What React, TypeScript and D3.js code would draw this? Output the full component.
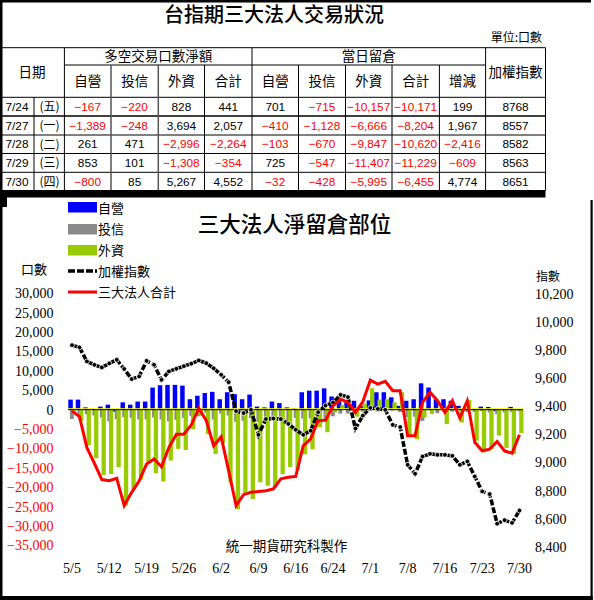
import React from 'react';
import * as d3 from 'd3';

// ---------- data ----------
const dates = [
  '5/5','5/6','5/7','5/8','5/11','5/12','5/13','5/14','5/15','5/18',
  '5/19','5/20','5/21','5/22','5/25','5/26','5/27','5/28','5/29','6/1',
  '6/2','6/3','6/4','6/5','6/8','6/9','6/10','6/11','6/12','6/15',
  '6/16','6/17','6/18','6/22','6/23','6/24','6/25','6/26','6/29','6/30',
  '7/1','7/2','7/3','7/6','7/7','7/8','7/9','7/13','7/14','7/15',
  '7/16','7/17','7/20','7/21','7/22','7/23','7/24','7/27','7/28','7/29','7/30',
];
// 自營
const dealers = [
  2600, 2600, 600, 200, 800, 1300, -500, 1900, 1300, 2100,
  2100, 5700, 6300, 6400, 6400, 6200, 2700, 3600, 4300, 4600,
  2700, 4500, 4000, 2700, 3900, 800, 600, 2100, 1700, 600,
  400, 4500, 4900, 4900, 5500, 3400, 2500, 1900, 2300, 1000,
  2400, 4500, 4500, 3200, 1000, 2300, 2700, 6800, 5700, 2700,
  2700, 2300, 1000, 400, 200, 800, 701, -410, -103, 725, -32,
];
// 投信
const trusts = [
  -2400, -1500, -1200, -1500, -2000, -3000, -2400, -1900, -2100, -2500,
  -2500, -2000, -2500, -3000, -2600, -2100, -1600, -1700, -800, -2500,
  -1000, -1500, -3100, -2900, -2200, -3200, -1900, -2500, -2900, -3200,
  -2100, -2300, -2200, -3200, -2400, -1700, -1000, -1000, -1200, -500,
  -300, -500, 100, -200, -600, -1900, -1800, -2900, -100, -900,
  300, -500, 200, -600, -600, -400, -715, -1128, -670, -547, -428,
];
// 外資
const foreign = [
  -500, -2900, -9200, -12500, -16800, -16600, -14800, -24700, -20500, -18000,
  -13600, -16400, -18500, -13100, -10100, -10400, -5000, -1500, -6300, -11400,
  -8700, -18700, -25600, -21700, -23000, -18700, -19600, -20000, -16600, -14800,
  -15500, -11500, -10200, -4500, -5800, -700, 1200, 1000, -1800, 1600,
  5500, 2600, 2700, 1900, 4500, -7100, -7600, -2000, -1100, 500,
  -3700, 500, -3300, 2500, -8000, -11000, -10157, -6666, -9847, -11407, -5995,
];
// 三大法人合計
const totals = [
  -300, -1800, -9800, -13800, -18000, -18300, -17700, -24700, -21300, -18400,
  -14000, -12700, -14700, -9700, -6300, -6300, -3900, 400, -2800, -9300,
  -7000, -15700, -24700, -21900, -21300, -21100, -20900, -20400, -17800, -17400,
  -17200, -9300, -7500, -2800, -2700, 1000, 2700, 1900, -700, 2100,
  7600, 6600, 7300, 4900, 4900, -6700, -6700, 1900, 4500, 2300,
  -700, 2300, -2100, 2300, -8400, -10600, -10171, -8204, -10620, -11229, -6455,
];
// 加權指數
const taiex = [
  9830, 9814, 9714, 9690, 9671, 9700, 9726, 9660, 9588, 9607,
  9718, 9690, 9583, 9643, 9662, 9680, 9698, 9721, 9702, 9665,
  9619, 9566, 9360, 9346, 9369, 9191, 9303, 9307, 9303, 9269,
  9227, 9191, 9220, 9352, 9400, 9421, 9476, 9460, 9236, 9328,
  9383, 9376, 9369, 9262, 9246, 8977, 8913, 9036, 9055, 9048,
  9048, 9041, 8977, 9001, 8894, 8787, 8768, 8557, 8582, 8563, 8651,
];
const xTickLabels = ['5/5','5/12','5/19','5/26','6/2','6/9','6/16','6/24','7/1','7/8','7/16','7/23','7/30'];
const leftTicks = [30000, 25000, 20000, 15000, 10000, 5000, 0, -5000, -10000, -15000, -20000, -25000, -30000, -35000];
const rightTicks = [10200, 10000, 9800, 9600, 9400, 9200, 9000, 8800, 8600, 8400];

// table
const tDates = ['7/24', '7/27', '7/28', '7/29', '7/30'];
const tWeekdays = ['(五)', '(一)', '(二)', '(三)', '(四)'];
const trdDealer = [-167, -1389, 261, 853, -800];
const trdTrust = [-220, -248, 471, 101, 85];
const trdForeign = [828, 3694, -2996, -1308, 5267];
const trdTotal = [441, 2057, -2264, -354, 4552];
const oiDealer = [701, -410, -103, 725, -32];
const oiTrust = [-715, -1128, -670, -547, -428];
const oiForeign = [-10157, -6666, -9847, -11407, -5995];
const oiTotal = [-10171, -8204, -10620, -11229, -6455];
const oiChange = [199, 1967, -2416, -609, 4774];
const tIndex = [8768, 8557, 8582, 8563, 8651];

const legendNames = ['自營', '投信', '外資', '加權指數', '三大法人合計'];

// ---------- styles ----------
const CJK = '"Noto Sans CJK TC", "Noto Sans CJK SC", sans-serif';
const SERIF = '"Liberation Serif", "Times New Roman", "DejaVu Serif", serif';
const SANS = '"Liberation Sans", Arial, sans-serif';
const BLUE = '#0000ff';
const GRAY = '#8a8a8a';
const GREEN = '#99cc00';
const RED = '#ff0000';

export default function App() {
  const x = d3.scalePoint<string>().domain(dates).range([72, 519.5]);
  const yL = d3.scaleLinear().domain([-35000, 30000]).range([545.5, 293.3]);
  const yR = d3.scaleLinear().domain([8400, 10200]).range([545.7, 293.3]);
  const fmt = d3.format(',');
  const y0 = yL(0);

  const idxLine = d3.line<number>().x((_, i) => x(dates[i]) as number).y((d) => yR(d));
  const totLine = d3.line<number>().x((_, i) => x(dates[i]) as number).y((d) => yL(d));

  const bar = (v: number, i: number, off: number, w: number, color: string, key: string) => {
    const cx = x(dates[i]) as number;
    const top = Math.min(yL(v), y0);
    const h = Math.abs(yL(v) - y0);
    return <rect key={key} x={cx + off} y={top} width={w} height={h} fill={color} />;
  };

  // table layout
  const colX = [0, 34, 64.4, 111, 158.3, 204.5, 252, 298.5, 345.5, 392, 439.4, 485.6, 545.5];
  const rowY = [97.3, 116, 135, 153.5, 172.3, 190.7];
  const tableCols = [trdDealer, trdTrust, trdForeign, trdTotal, oiDealer, oiTrust, oiForeign, oiTotal, oiChange];
  const subHeads = ['自營', '投信', '外資', '合計', '自營', '投信', '外資', '合計', '增減'];

  return (
    <svg width={594} height={600} style={{ position: 'absolute', left: 0, top: 0, background: '#fff' }}>
      <rect x={0} y={0} width={594} height={600} fill="#fff" />
      {/* frame */}
      <rect x={0} y={0} width={591} height={2.5} fill="#000" />
      <rect x={0} y={0} width={2.5} height={600} fill="#000" />

      {/* title */}
      <text x={274} y={22} textAnchor="middle" fontFamily={CJK} fontSize={20} fontWeight={500} fill="#000">台指期三大法人交易狀況</text>
      <text x={542} y={42} textAnchor="end" fontFamily={CJK} fontSize={12} fill="#000">單位:口數</text>

      {/* table grid */}
      <g stroke="#000" strokeWidth={1}>
        <line x1={0} x2={545.5} y1={47.7} y2={47.7} />
        <line x1={64.4} x2={485.6} y1={65} y2={65} />
        {rowY.slice(0, 5).map((y, k) => (
          <line key={'h' + k} x1={0} x2={545.5} y1={y} y2={y} strokeWidth={k === 1 ? 1.6 : 1} />
        ))}
        {[64.4, 252, 485.6, 545.5].map((cx, k) => (
          <line key={'v' + k} x1={cx} x2={cx} y1={47.7} y2={190.7} />
        ))}
        {[111, 158.3, 204.5, 298.5, 345.5, 392, 439.4].map((cx, k) => (
          <line key={'s' + k} x1={cx} x2={cx} y1={65} y2={190.7} stroke={k === 0 || k === 1 ? '#555' : '#000'} strokeWidth={k === 0 || k === 1 ? 1.5 : 1} />
        ))}
        <line x1={34} x2={34} y1={97.3} y2={190.7} />
      </g>
      <rect x={0} y={190} width={545.5} height={7.5} fill="#000" />
      <rect x={0} y={197} width={7} height={10} fill="#000" />

      {/* table headers */}
      <g fontFamily={CJK} fontSize={13.5} fill="#000" textAnchor="middle">
        <text x={32} y={72.5} dy="0.35em">日期</text>
        <text x={158.2} y={56.5} dy="0.35em">多空交易口數淨額</text>
        <text x={368.8} y={56.5} dy="0.35em">當日留倉</text>
        <text x={515.5} y={72.5} dy="0.35em">加權指數</text>
        {subHeads.map((s, k) => (
          <text key={'sh' + k} x={(colX[k + 2] + colX[k + 3]) / 2} y={81.5} dy="0.35em">{s}</text>
        ))}
      </g>

      {/* table body */}
      {tDates.map((d, r) => {
        const cy = (rowY[r] + rowY[r + 1]) / 2;
        return (
          <g key={'row' + r} fontSize={11.8} textAnchor="middle">
            <text x={17} y={cy} dy="0.36em" fontFamily={SANS} fill="#000">{d}</text>
            <text x={49.5} y={cy} dy="0.36em" fontFamily={CJK} fontSize={12} fill="#000">{tWeekdays[r]}</text>
            {tableCols.map((col, c) => (
              <text key={'c' + c} x={(colX[c + 2] + colX[c + 3]) / 2} y={cy} dy="0.36em" fontFamily={SANS}
                fill={col[r] < 0 ? RED : '#000'}>{fmt(col[r])}</text>
            ))}
            <text x={515.5} y={cy} dy="0.36em" fontFamily={SANS} fill="#000">{String(tIndex[r])}</text>
          </g>
        );
      })}

      {/* chart frame */}
      <rect x={590.5} y={200} width={2.2} height={400} fill="#000" />
      <rect x={0} y={596} width={592.7} height={4} fill="#000" />

      {/* chart title */}
      <text x={294.5} y={232} textAnchor="middle" fontFamily={CJK} fontSize={21.5} fontWeight={500} fill="#000">三大法人淨留倉部位</text>

      {/* legend */}
      <rect x={68} y={202} width={29} height={10.5} fill={BLUE} />
      <rect x={68} y={224} width={29} height={10.5} fill={GRAY} />
      <rect x={68} y={245} width={29} height={10.5} fill={GREEN} />
      <line x1={68} x2={97} y1={271} y2={271} stroke="#000" strokeWidth={3.5} strokeDasharray="7,2" />
      <line x1={68} x2={97} y1={292} y2={292} stroke={RED} strokeWidth={3} />
      {legendNames.map((n, k) => (
        <text key={'lg' + k} x={98} y={[208, 229.5, 250.5, 271, 292][k]} dy="0.36em" fontFamily={CJK} fontSize={13} fill="#000">{n}</text>
      ))}

      {/* axis titles */}
      <text x={21} y={269} dy="0.36em" fontFamily={CJK} fontSize={13} fill="#000">口數</text>
      <text x={536} y={277} dy="0.36em" fontFamily={CJK} fontSize={12} fill="#000">指數</text>

      {/* left ticks */}
      {leftTicks.map((t) => (
        <text key={'lt' + t} x={53.5} y={yL(t)} dy="0.35em" textAnchor="end" fontFamily={SERIF} fontSize={14}
          fill={t < 0 ? RED : '#000'}>{fmt(t)}</text>
      ))}
      {/* right ticks */}
      {rightTicks.map((t) => (
        <text key={'rt' + t} x={535} y={yR(t) + 1} dy="0.35em" fontFamily={SERIF} fontSize={14} fill="#000">{fmt(t)}</text>
      ))}

      {/* bars */}
      <g>
        {dealers.map((v, i) => bar(v, i, -3.7, 4.5, BLUE, 'b' + i))}
        {trusts.map((v, i) => bar(v, i, -2, 3.8, GRAY, 'g' + i))}
        {foreign.map((v, i) => bar(v, i, -0.3, 4.3, GREEN, 'f' + i))}
      </g>

      {/* zero line */}
      <line x1={68} x2={523} y1={y0 - 1} y2={y0 - 1} stroke="#ffff00" strokeWidth={1} />
      <line x1={68} x2={523} y1={y0} y2={y0} stroke="#000" strokeWidth={1} />

      {/* index line */}
      <path d={idxLine(taiex) || ''} fill="none" stroke="#000" strokeWidth={3.5} strokeDasharray="6,2" />
      {taiex.map((v, i) => (
        <circle key={'m' + i} cx={x(dates[i]) as number} cy={yR(v)} r={2.4} fill="#000" stroke="#fff" strokeWidth={0.8} />
      ))}

      {/* total line */}
      <path d={totLine(totals) || ''} fill="none" stroke={RED} strokeWidth={3} strokeLinejoin="miter" />

      {/* credit */}
      <text x={286.5} y={546} dy="0.36em" textAnchor="middle" fontFamily={CJK} fontSize={13.5} fill="#000">統一期貨研究科製作</text>

      {/* x labels */}
      {xTickLabels.map((d) => (
        <text key={'xl' + d} x={x(d) as number} y={568} dy="0.35em" textAnchor="middle" fontFamily={SERIF} fontSize={14} fill="#000">{d}</text>
      ))}
    </svg>
  );
}
